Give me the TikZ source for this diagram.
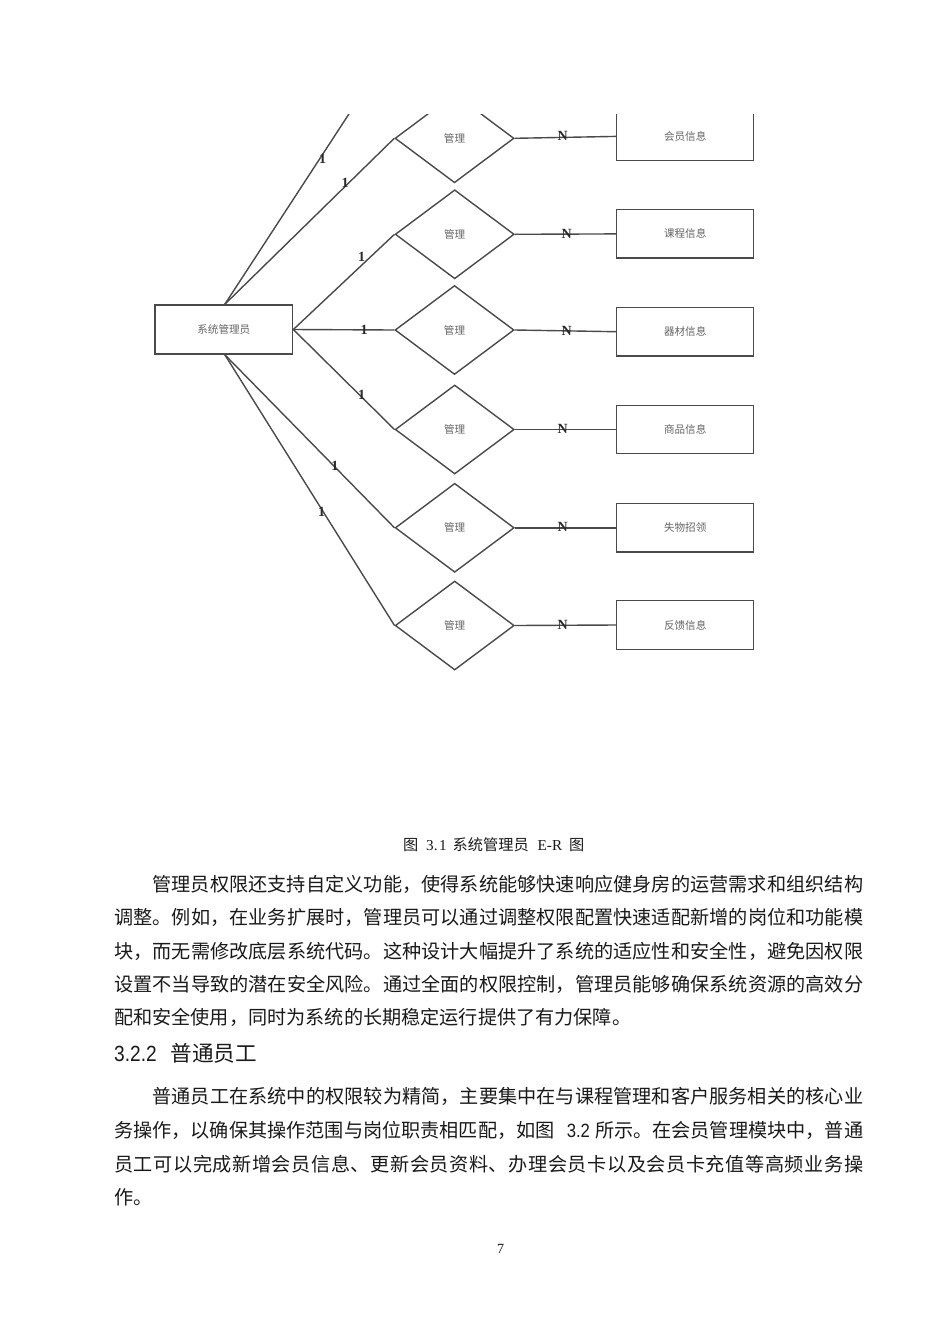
\documentclass[tikz,border=0pt]{standalone}
\usepackage{fontspec}
\usepackage{graphicx}
\setmainfont{Liberation Serif}
\newfontfamily\cjk{Noto Sans CJK SC}
\newfontfamily\arialf{Liberation Sans}
\usetikzlibrary{shapes.geometric}
\definecolor{lc}{HTML}{4A4A4A}
\definecolor{tc}{HTML}{656565}
\definecolor{lt}{HTML}{2A2A2A}
\definecolor{bt}{HTML}{1A1A1A}
\def\spreadcjk#1{\ifx\relax#1\else#1\hfil\expandafter\spreadcjk\fi}
\tikzset{
 conn/.style={draw=lc, line width=1.4pt},
 entbox/.style={draw=lc, line width=1.4pt, minimum width=137pt, minimum height=48.5pt, inner sep=0pt, font=\cjk\fontsize{10.6}{12}\selectfont, text=tc},
 relbox/.style={diamond, aspect=1.34, draw=lc, line width=1.4pt, minimum width=119pt, minimum height=89pt, inner sep=0pt, font=\cjk\fontsize{10.6}{12}\selectfont, text=tc},
 lab/.style={inner sep=0pt, font=\bfseries\fontsize{14}{14}\selectfont, text=lt},
 bodyl/.style={anchor=base west, inner sep=0pt, font=\cjk\fontsize{19.15}{23}\selectfont, text=bt},
}
\begin{document}
\begin{tikzpicture}[x=1pt,y=-1pt]
\useasboundingbox (0,0) rectangle (950,1344);
\fill[white] (0,0) rectangle (950,1344);
% ---------------- diagram ----------------
\begin{scope}
\clip (0,114) rectangle (950,1344);
\node[entbox, minimum width=137.7pt, minimum height=49pt] (adm) at (223.8,329.5) {系统管理员};
\node[relbox] (r1) at (454.5,138.3) {管理};
\node[relbox] (r2) at (454.7,234.3) {管理};
\node[relbox] (r3) at (454.5,330) {管理};
\node[relbox] (r4) at (454.7,429.5) {管理};
\node[relbox] (r5) at (454.7,527.8) {管理};
\node[relbox] (r6) at (454.7,625.5) {管理};
\node[entbox] (e1) at (685.2,136.4) {会员信息};
\node[entbox] (e2) at (685.2,233.9) {课程信息};
\node[entbox] (e3) at (685.2,331.7) {器材信息};
\node[entbox] (e4) at (685.2,429.5) {商品信息};
\node[entbox] (e5) at (685.2,527.8) {失物招领};
\node[entbox] (e6) at (685.2,625) {反馈信息};
\coordinate (up) at (362.3,93.5);
\draw[conn] ([xshift=1pt]adm.north) -- (up);
\draw[conn] ([xshift=1pt]adm.north) -- (r1.west);
\draw[conn] (adm.east) -- (r2.west);
\draw[conn] (adm.east) -- (r3.west);
\draw[conn] (adm.east) -- (r4.west);
\draw[conn] ([xshift=1pt]adm.south) -- (r5.west);
\draw[conn] ([xshift=1pt]adm.south) -- (r6.west);
\foreach \i in {1,...,6}{\draw[conn] (r\i.east) -- (e\i.west);}
\node[lab] (o0) at (322.6,159.3) {1};
\node[lab] (o1) at (345,183) {1};
\node[lab] (o2) at (361.5,256.7) {1};
\node[lab] (o3) at (364,329.5) {1};
\node[lab] (o4) at (361.5,395) {1};
\node[lab] (o5) at (334.9,466) {1};
\node[lab] (o6) at (321.7,512.3) {1};
\node[lab] (n1) at (562.6,135.5) {N};
\node[lab] (n2) at (566.7,233.6) {N};
\node[lab] (n3) at (566.7,330.5) {N};
\node[lab] (n4) at (562.6,429.3) {N};
\node[lab] (n5) at (562.6,527) {N};
\node[lab] (n6) at (562.6,624.8) {N};
\end{scope}
% ---------------- caption ----------------
\node[anchor=base, inner sep=0pt, text=bt, font=\fontsize{15.2}{16}\selectfont] (cap) at (493.7,850.8)
 {{\cjk 图}\hspace{8pt}3.\hspace{1.5pt}1\hspace{6pt}{\cjk 系统管理员}\hspace{9pt}E-R\hspace{7pt}{\cjk 图}};
% ---------------- paragraph 1 ----------------
\node[bodyl] (t1) at (152.3,891.3) {\hbox to 710.7pt{\spreadcjk 管理员权限还支持自定义功能，使得系统能够快速响应健身房的运营需求和组织结构\relax\unskip}};
\node[bodyl] (t2) at (114,924.7) {\hbox to 749pt{\spreadcjk 调整。例如，在业务扩展时，管理员可以通过调整权限配置快速适配新增的岗位和功能模\relax\unskip}};
\node[bodyl] (t3) at (114,958) {\hbox to 749pt{\spreadcjk 块，而无需修改底层系统代码。这种设计大幅提升了系统的适应性和安全性，避免因权限\relax\unskip}};
\node[bodyl] (t4) at (114,991.3) {\hbox to 749pt{\spreadcjk 设置不当导致的潜在安全风险。通过全面的权限控制，管理员能够确保系统资源的高效分\relax\unskip}};
\node[bodyl] (t5) at (114,1024.3) {配和安全使用，同时为系统的长期稳定运行提供了有力保障。};
% ---------------- heading ----------------
\node[anchor=base west, inner sep=0pt, text=bt] (hd) at (114,1061.2)
 {\scalebox{0.87}[1]{\arialf\fontsize{22}{22}\selectfont 3.2.2}\hspace{14pt}{\cjk\fontsize{21.6}{22}\selectfont 普通员工}};
% ---------------- paragraph 2 ----------------
\node[bodyl] (u1) at (152.3,1103.3) {\hbox to 710.7pt{\spreadcjk 普通员工在系统中的权限较为精简，主要集中在与课程管理和客户服务相关的核心业\relax\unskip}};
\node[bodyl] (u2) at (114,1137.3) {\hbox to 749pt{\spreadcjk 务操作，以确保其操作范围与岗位职责相匹配，如图\relax\unskip\hskip 12pt plus 1fil\scalebox{0.87}[1]{\arialf\fontsize{19.2}{20}\selectfont 3.2}\hskip 5pt plus 1fil\spreadcjk 所示。在会员管理模块中，普通\relax\unskip}};
\node[bodyl] (u3) at (114,1171.3) {\hbox to 749pt{\spreadcjk 员工可以完成新增会员信息、更新会员资料、办理会员卡以及会员卡充值等高频业务操\relax\unskip}};
\node[bodyl] (u4) at (114,1204.8) {作。};
% ---------------- page number ----------------
\node[anchor=base, inner sep=0pt, text=bt, font=\fontsize{14}{14}\selectfont] (pg) at (500.7,1253.7) {7};
\end{tikzpicture}
\end{document}
